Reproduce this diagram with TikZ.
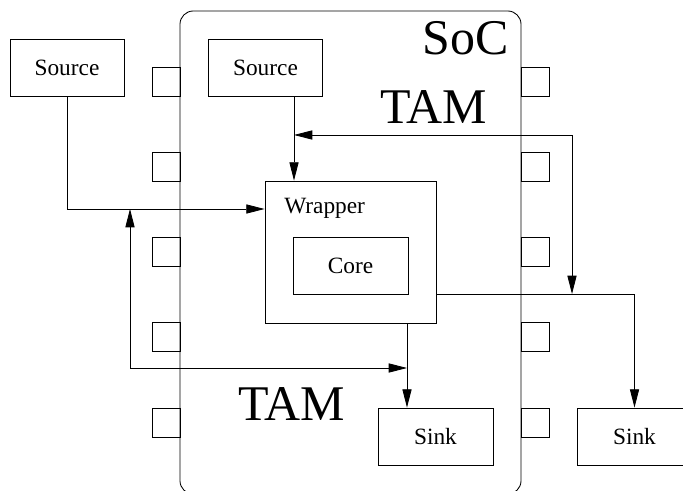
\documentclass[tikz,border=0pt]{standalone}
\usepackage{fontspec}
\setmainfont{Liberation Serif}
\usetikzlibrary{arrows.meta}
\begin{document}
\begin{tikzpicture}[x=0.025cm,y=-0.025cm,
  blk/.style={draw,line width=0.6pt,minimum width=2.875cm,minimum height=1.425cm,inner sep=0pt,font=\fontsize{16.6}{20}\selectfont},
  pin/.style={draw,line width=0.6pt,minimum width=0.7cm,minimum height=0.725cm,inner sep=0pt},
  big/.style={inner sep=0pt,font=\fontsize{35.5}{40}\selectfont},
  small/.style={inner sep=0pt,font=\fontsize{16.6}{20}\selectfont},
  arr/.style={line width=0.6pt,-{Triangle[length=13pt,width=6.5pt]}},
  bus/.style={line width=0.6pt,{Triangle[length=13pt,width=6.5pt]}-{Triangle[length=13pt,width=6.5pt]}}]
  \useasboundingbox (0,0) rectangle (683,491);
  \clip (0,0) rectangle (683,491);
  % chip outline and pins
  \draw[line width=0.6pt,rounded corners=0.33cm] (180,11) rectangle (521,494);
  \foreach \y [count=\i] in {81.5,166.5,251.5,337,422.5} {
    \node[pin] (pinL\i) at (166,\y) {};
    \node[pin] (pinR\i) at (535,\y) {};
  }
  \node[big,anchor=base east] (soc) at (509,55) {SoC};
  \node[big,anchor=base west] (tamT) at (380,124) {TAM};
  \node[big,anchor=base west] (tamB) at (238,420) {TAM};
  % blocks
  \node[blk,minimum width=2.85cm] (srcA) at (67,67.5) {Source};
  \node[blk,minimum width=2.85cm] (srcB) at (265.5,67.5) {Source};
  \node[blk,minimum width=4.275cm,minimum height=3.55cm] (wrap) at (350.5,252) {};
  \node[small,anchor=base west] (wraptxt) at (284,214) {Wrapper};
  \node[blk] (core) at (350.5,265.5) {Core};
  \node[blk] (sinkA) at (435.5,436.5) {Sink};
  \node[blk] (sinkB) at (634.5,436.5) {Sink};
  % TAM buses
  \coordinate (busL) at (130,209);
  \coordinate (busR) at (407,368);
  \coordinate (busT) at (294,135);
  \coordinate (busB) at (572,294);
  \draw[arr] (srcA.south) |- (wrap.west |- busL);
  \draw[bus] (busL) |- (busR);
  \draw[arr] (srcB.south -| busT) -- (wrap.north -| busT);
  \draw[bus] (busT) -| (busB);
  \draw[arr] (wrap.east |- core.south) -| (sinkB.north);
  \draw[arr] (wrap.south -| busR) -- (sinkA.north -| busR);
\end{tikzpicture}
\end{document}
